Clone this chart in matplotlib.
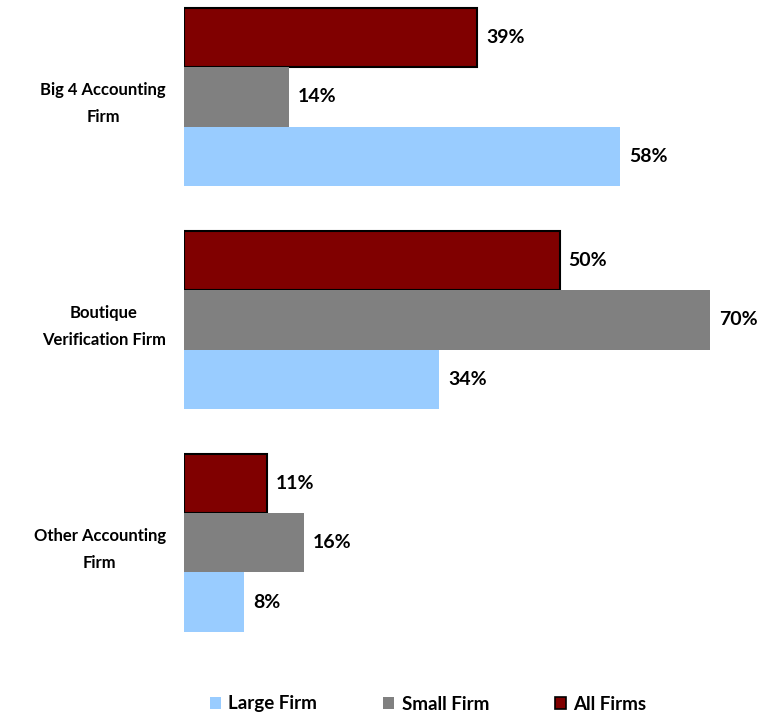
import matplotlib.pyplot as plt
from matplotlib.patches import Patch
import numpy as np

plt.rcParams['font.family'] = ['Lato', 'DejaVu Sans']
plt.rcParams['font.weight'] = 'bold'

categories = ["Big 4 Accounting\nFirm", "Boutique\nVerification Firm", "Other Accounting\nFirm"]
all_firms = [39, 50, 11]
small_firm = [14, 70, 16]
large_firm = [58, 34, 8]

fig = plt.figure(figsize=(7.59, 7.17), dpi=100)
ax = fig.add_axes([184 / 759, 57 / 717, 556 / 759, 660 / 717])

y = np.arange(len(categories))
h = 0.265
series = [
    (all_firms, -h, "#800000", "black", "All Firms"),
    (small_firm, 0, "#808080", "none", "Small Firm"),
    (large_firm, h, "#99CCFF", "none", "Large Firm"),
]
for vals, off, col, ec, name in series:
    bars = ax.barh(y + off, vals, height=h, color=col, edgecolor=ec,
                   linewidth=1.5 if ec != "none" else 0, label=name)
    for b, v in zip(bars, vals):
        ax.annotate(f"{v}%", (b.get_width(), b.get_y() + b.get_height() / 2),
                    xytext=(9, 0), textcoords="offset pixels",
                    va="center", ha="left", fontsize=14, fontweight="bold")

ax.set_xlim(0, 74)
ax.set_ylim(2.525, -0.435)
ax.set_yticks(y)
ax.set_yticklabels(categories, fontsize=12, fontweight="bold",
                   multialignment="center", linespacing=1.8)
ax.tick_params(axis="y", length=0, pad=13)
ax.set_xticks([])
for s in ax.spines.values():
    s.set_visible(False)

handles = [
    Patch(facecolor="#99CCFF", edgecolor="none"),
    Patch(facecolor="#808080", edgecolor="none"),
    Patch(facecolor="#800000", edgecolor="black", linewidth=1.2),
]
fig.legend(handles, ["Large Firm", "Small Firm", "All Firms"], loc="center",
           bbox_to_anchor=(428 / 759, 1 - 704 / 717), ncol=3, frameon=False,
           handlelength=0.6, handleheight=0.6, handletextpad=0.4,
           columnspacing=3.5, prop={"weight": "bold", "size": 13.5})

fig.savefig("out.png", dpi=100)
